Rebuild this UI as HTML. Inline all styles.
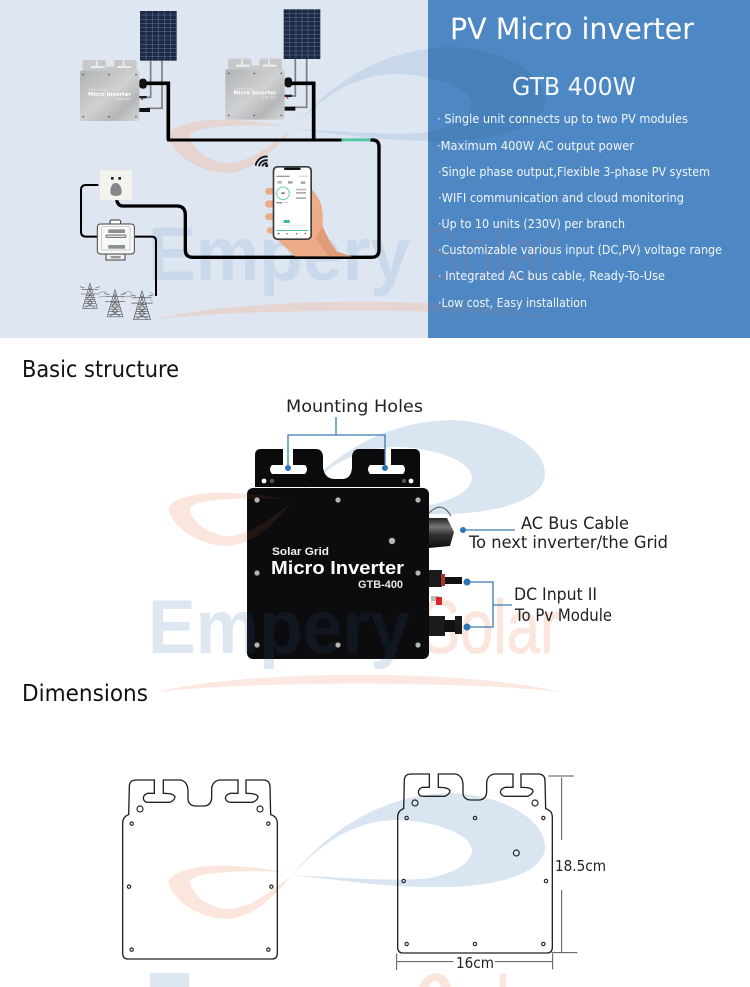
<!DOCTYPE html>
<html><head><meta charset="utf-8"><style>
html,body{margin:0;padding:0;background:#fff;width:750px;height:987px;overflow:hidden}
svg{display:block}
text{font-family:"DejaVu Sans","Liberation Sans",sans-serif}
.wm{font-family:"Liberation Sans",sans-serif;font-weight:bold;font-size:76px}
.wn{font-family:"Liberation Sans",sans-serif;font-weight:normal;font-size:76px}
</style></head><body>
<svg xmlns="http://www.w3.org/2000/svg" width="750" height="987" viewBox="0 0 750 987">
<defs>
<linearGradient id="steel" x1="0" y1="0" x2="1" y2="1"><stop offset="0" stop-color="#b0b3b5"/><stop offset=".5" stop-color="#cfd0d1"/><stop offset=".75" stop-color="#b4b6b8"/><stop offset="1" stop-color="#d6d7d7"/></linearGradient>
<linearGradient id="acg" x1="0" y1="0" x2="0" y2="1"><stop offset="0" stop-color="#222"/><stop offset=".3" stop-color="#777"/><stop offset=".55" stop-color="#333"/><stop offset="1" stop-color="#0c0c0c"/></linearGradient>
<clipPath id="topc"><rect x="0" y="0" width="750" height="338"/></clipPath>
<clipPath id="panc"><rect x="428" y="0" width="322" height="338"/></clipPath>
<clipPath id="midc"><rect x="0" y="338" width="750" height="649"/></clipPath>
<clipPath id="bodyc"><rect x="247" y="488" width="182" height="171" rx="6"/></clipPath>
<path id="swb" d="M292 875C330 830 380 795 450 793C505 795 545 820 545 847C545 875 490 887 443 887C390 888 340 880 292 875C350 878 400 882 430 878C460 872 472 860 472 850C470 832 430 820 393 820C355 822 325 840 292 875Z"/>
<path id="swo" d="M283 872C250 866 220 864 200 867C178 870 166 878 169 885C175 902 200 918 225 919C255 918 275 895 292 875C275 888 250 910 225 909C205 906 190 892 190 881C195 873 230 870 283 872Z"/>
<path id="swl" d="M157 692C250 669 470 669 560 692C470 681 250 681 157 692Z"/>
<g id="outl">
<path d="M38 190Q38 170 56 164L58 80Q58 60 78 60L133 60L133 100L112 100Q100 105 100 115Q102 127 115 127L180 127Q195 120 195 110Q190 100 160 100L160 60L212 60Q232 65 234 90L234 120Q238 138 258 138L285 138Q303 135 305 115L305 85Q308 62 330 60L384 60L384 100L360 100Q346 105 346 115Q350 127 362 127L428 127Q444 120 444 110Q440 100 408 100L408 60L462 60Q480 62 480 80L482 164Q502 170 502 190L502 580Q502 597 485 597L55 597Q38 597 38 580Z" fill="none" stroke="#222" stroke-width="4"/>
</g>
<g id="inv">
<path d="M248 212L248 186Q248 180 254 180L312 180Q318 180 318 186L318 200L342 200L342 186Q342 180 348 180L404 180Q410 180 410 186L410 212Z" fill="#c6c8c9"/>
<rect x="272" y="198" width="42" height="6" fill="#eceeee"/><rect x="288" y="182" width="5" height="16" fill="#eceeee"/><rect x="352" y="198" width="42" height="6" fill="#eceeee"/><rect x="368" y="182" width="5" height="16" fill="#eceeee"/>
<rect x="240" y="212" width="178" height="151" rx="5" fill="url(#steel)"/>
<g fill="#555"><circle cx="250" cy="224" r="2.5"/><circle cx="327" cy="224" r="2.5"/><circle cx="408" cy="224" r="2.5"/><circle cx="250" cy="350" r="2.5"/><circle cx="327" cy="350" r="2.5"/><circle cx="408" cy="350" r="2.5"/></g>
<text x="266" y="272" font-size="8" fill="#eee" textLength="55" lengthAdjust="spacingAndGlyphs">Solar Grid</text>
<text x="264" y="288" font-size="15" font-weight="bold" fill="#fff" textLength="129" lengthAdjust="spacingAndGlyphs">Micro Inverter</text>
<text x="349" y="300" font-size="8" fill="#eee" textLength="44" lengthAdjust="spacingAndGlyphs">GTB-400</text>
<rect x="418" y="236" width="22" height="30" rx="9" fill="#111"/>
<rect x="418" y="288" width="22" height="7" fill="#222"/><rect x="424" y="295" width="5" height="5" fill="#c33"/>
<rect x="418" y="324" width="32" height="12" fill="#111"/>
</g>
<g id="tower" fill="none" stroke="#555" stroke-width="1.8">
<path d="M0 -70L-22 5L22 5Z"/><path d="M-18 -10L18 -10M-15 -22L15 -22M-11 -34L11 -34M-20 -2L20 -2M-16 -16L16 -16M-13 -28L13 -28"/>
<path d="M-25 -52L25 -52M-28 -38L28 -38M-30 -60L-16 -56M30 -60L16 -56"/>
<path d="M-4 -60L4 -40L-8 -25L8 -10L-14 3M4 -60L-4 -40L8 -25L-8 -10L14 3"/>
</g>
<g id="panel">
<rect x="0" y="0" width="110" height="149" fill="#1c2a48"/>
<g stroke="#8d98ae" stroke-width="1"><path d="M18 0V149M37 0V149M55 0V149M73 0V149M92 0V149M0 12H110M0 25H110M0 37H110M0 50H110M0 62H110M0 75H110M0 87H110M0 100H110M0 112H110M0 125H110M0 137H110"/></g>
</g>
</defs>

<rect width="750" height="987" fill="#fff"/>
<rect x="0" y="0" width="428" height="338" fill="#dee6f2"/>

<!-- watermark, top -->
<g clip-path="url(#topc)">
<use href="#swb" y="-746" fill="#c8d8ea"/>
<use href="#swo" y="-746" fill="#e6d4d1"/>
<text class="wm" x="148" y="280" fill="#c9d9eb" textLength="262" lengthAdjust="spacingAndGlyphs">Empery</text>
<use href="#swl" y="-373" fill="#e6d4d1"/>
</g>

<!-- right blue panel -->
<rect x="428" y="0" width="322" height="338" fill="#4d88c4"/>
<g clip-path="url(#panc)">
<use href="#swb" y="-746" fill="#3a70aa" opacity=".28"/>
<text class="wn" x="420" y="280" fill="#8c7f98" opacity=".22" textLength="140" lengthAdjust="spacingAndGlyphs">Solar</text>
<use href="#swl" y="-373" fill="#8c7f98" opacity=".22"/>
</g>
<text x="450" y="39" font-size="29" fill="#fff" textLength="244" lengthAdjust="spacingAndGlyphs">PV Micro inverter</text>
<text x="512" y="95" font-size="25" fill="#f4f7fb" textLength="124" lengthAdjust="spacingAndGlyphs">GTB 400W</text>
<g font-size="12.5" fill="#f2f6fb">
<text x="437" y="123" textLength="251" lengthAdjust="spacingAndGlyphs">· Single unit connects up to two PV modules</text>
<text x="437" y="150" textLength="197" lengthAdjust="spacingAndGlyphs">·Maximum 400W AC output power</text>
<text x="438" y="176" textLength="272" lengthAdjust="spacingAndGlyphs">·Single phase output,Flexible 3-phase PV system</text>
<text x="438" y="202" textLength="246" lengthAdjust="spacingAndGlyphs">·WIFI communication and cloud monitoring</text>
<text x="438" y="228" textLength="187" lengthAdjust="spacingAndGlyphs">·Up to 10 units (230V) per branch</text>
<text x="438" y="254" textLength="284" lengthAdjust="spacingAndGlyphs">·Customizable various input (DC,PV) voltage range</text>
<text x="438" y="280" textLength="227" lengthAdjust="spacingAndGlyphs">· Integrated AC bus cable, Ready-To-Use</text>
<text x="438" y="307" textLength="149" lengthAdjust="spacingAndGlyphs">·Low cost, Easy installation</text>
</g>

<!-- watermark, lower -->
<g clip-path="url(#midc)">
<use href="#swb" y="-373" fill="#d9e5f1"/>
<use href="#swo" y="-373" fill="#fae6dc"/>
<use href="#swb" fill="#d9e5f1"/>
<use href="#swo" fill="#fae6dc"/>
<text class="wm" x="148" y="653" fill="#dce7f2" textLength="262" lengthAdjust="spacingAndGlyphs">Empery</text>
<text class="wn" x="420" y="653" fill="#fbe6dd" stroke="#fbe6dd" stroke-width="1" textLength="140" lengthAdjust="spacingAndGlyphs">Solar</text>
<use href="#swl" fill="#fbe9e1"/>
<rect x="150" y="973" width="39" height="14" fill="#dce7f2"/>
<path d="M419 987C422 978 430 973 436 973C443 973 449 978 451 987H441C440 983 438 981 436 981C433 981 430 983 429 987Z" fill="#fbe6dd"/>
<rect x="500" y="973" width="6" height="14" fill="#fbe6dd"/>
</g>

<!-- top diagram (3x coords) -->
<g transform="scale(.33333)">
<use href="#panel" x="420" y="33"/>
<use href="#panel" x="851" y="28"/>
<g fill="none" stroke="#7b8085" stroke-width="5">
<path d="M452 182V292H430M486 182V325H440"/>
<path d="M886 177V288H866M920 177V322H876"/>
</g>
<use href="#inv"/>
<use href="#inv" x="436" y="-4"/>
<g fill="none" stroke="#000">
<path d="M438 250H505V420" stroke-width="11"/>
<path d="M872 250H941V420" stroke-width="11"/>
<path d="M501 420H1025" stroke-width="9"/>
<path d="M1110 420H1118Q1137 420 1137 440V750Q1137 772 1115 772H578Q556 772 556 750V645Q556 618 530 618H368Q349 618 349 585" stroke-width="10"/>
<path d="M295 555H258Q243 555 243 570V695Q243 710 258 710H292" stroke-width="6"/>
<path d="M405 710H455Q468 710 468 723V888" stroke-width="6"/>
</g>
<rect x="1025" y="415" width="87" height="9" fill="#52c7a3"/>

<!-- socket -->
<rect x="300" y="510" width="97" height="90" fill="#f4f4ef" stroke="#e2e2dc"/>
<rect x="333" y="531" width="8" height="8" fill="#222"/><rect x="355" y="531" width="8" height="8" fill="#222"/>
<path d="M338 552Q347 546 356 552Q366 562 365 578Q364 588 348 588Q332 588 331 578Q330 562 338 552Z" fill="#85888b"/>
<!-- meter -->
<rect x="330" y="660" width="32" height="14" rx="5" fill="#fff" stroke="#333" stroke-width="3"/>
<rect x="292" y="672" width="111" height="90" rx="9" fill="#f7f8f8" stroke="#444" stroke-width="3"/>
<rect x="305" y="680" width="85" height="70" rx="3" fill="none" stroke="#bbb" stroke-width="2"/>
<rect x="325" y="688" width="50" height="11" fill="#8d9092"/><rect x="325" y="735" width="50" height="11" fill="#8d9092"/>
<rect x="318" y="705" width="60" height="8" rx="3" fill="#ddd" stroke="#444" stroke-width="2"/>
<rect x="318" y="762" width="57" height="18" fill="#eee" stroke="#444" stroke-width="3"/>
<rect x="332" y="768" width="30" height="7" fill="#999"/>
<!-- towers -->
<use href="#tower" x="270" y="920"/>
<use href="#tower" transform="translate(345 945) scale(1.08)"/>
<use href="#tower" transform="translate(426 953) scale(1.15)"/>
<g fill="none" stroke="#777" stroke-width="1.5"><path d="M295 880Q310 872 322 878M295 892Q310 886 322 890M368 880Q385 872 398 878M368 892Q385 886 398 892M450 878L458 880M450 898L458 904"/></g>

<!-- wifi -->
<g fill="none" stroke="#111" stroke-width="5.5">
<path d="M767 497A32 32 0 0 1 803 470"/><path d="M777 499A22 22 0 0 1 803 481"/><path d="M787 499A12 12 0 0 1 802 490"/></g>
<circle cx="800" cy="497" r="4.5" fill="#111"/>
<!-- hand -->
<g fill="#eeab88">
<rect x="795" y="564" width="35" height="20" rx="10"/><rect x="795" y="601" width="35" height="22" rx="11"/><rect x="795" y="640" width="35" height="20" rx="10"/><rect x="800" y="682" width="30" height="18" rx="9"/>
<path d="M930 562Q958 590 965 620Q970 650 968 680Q985 720 1010 755L1055 769L885 769Q860 745 825 712Z"/>
</g>
<path d="M968 680Q985 720 1010 755L1055 769L985 769Q960 730 945 715Z" fill="#e19b75"/>
<!-- phone -->
<rect x="818" y="498" width="118" height="222" rx="14" fill="#3a3c40"/>
<rect x="823" y="503" width="108" height="212" rx="10" fill="#fff"/>
<rect x="852" y="503" width="50" height="7" rx="3" fill="#111"/>
<circle cx="849" cy="580" r="19" fill="#fff" stroke="#66cdb0" stroke-width="3"/>
<rect x="844" y="577" width="10" height="5" fill="#777"/>
<rect x="829" y="527" width="40" height="4" fill="#999"/><rect x="895" y="527" width="28" height="3" fill="#ccc"/>
<rect x="832" y="543" width="14" height="8" fill="#bbb"/><rect x="864" y="543" width="14" height="8" fill="#aaa"/><rect x="902" y="544" width="14" height="8" fill="#aaa"/>
<rect x="888" y="566" width="30" height="5" fill="#bbb"/><rect x="888" y="576" width="30" height="5" fill="#aaa"/><rect x="888" y="592" width="30" height="5" fill="#aaa"/>
<rect x="829" y="606" width="18" height="4" fill="#888"/><rect x="852" y="606" width="12" height="3" fill="#ccc"/>
<rect x="851" y="660" width="18" height="9" fill="#3bb79a"/>
<rect x="829" y="690" width="96" height="3" fill="#4fc4a0"/>
<rect x="830" y="674" width="92" height="3" fill="#e8e8e8"/>
<g fill="#777"><circle cx="836" cy="701" r="3"/><circle cx="862" cy="701" r="2.5"/><circle cx="890" cy="701" r="2.5"/><circle cx="916" cy="701" r="2.5"/></g>
</g>

<!-- Basic structure -->
<text x="22" y="377" font-size="23" fill="#111" textLength="157" lengthAdjust="spacingAndGlyphs">Basic structure</text>
<text x="286" y="412" font-size="17" fill="#222" textLength="137" lengthAdjust="spacingAndGlyphs">Mounting Holes</text>

<!-- bracket -->
<path fill-rule="evenodd" fill="#0b0b0b" d="M255 487V455Q255 449 261 449H283V465H272Q268 469 272 474H305Q309 469 305 465H293V449H316Q322 449 323 456V468Q325 479 335 479H342Q351 479 352 468V456Q353 449 359 449H385V465H370Q366 469 370 474H403Q407 469 403 465H391V449H414Q420 449 420 455V487Z"/>
<circle cx="264" cy="481" r="2.4" fill="#fff"/><circle cx="272" cy="481" r="2.2" fill="#555"/><circle cx="404" cy="481" r="2.2" fill="#555"/><circle cx="411" cy="481" r="2.4" fill="#fff"/>
<!-- body -->
<rect x="247" y="488" width="182" height="171" rx="6" fill="#0c0c0e"/>
<g clip-path="url(#bodyc)">
<text class="wm" x="148" y="653" fill="#2e6aa8" opacity=".12" textLength="262" lengthAdjust="spacingAndGlyphs">Empery</text>
<use href="#swo" y="-373" fill="#c7663a" opacity=".12"/>
</g>
<g fill="#b5b5b5"><circle cx="257" cy="500" r="2.6"/><circle cx="338" cy="500" r="2.6"/><circle cx="418" cy="500" r="2.6"/><circle cx="257" cy="573" r="2.6"/><circle cx="418" cy="573" r="2.6"/><circle cx="257" cy="645" r="2.6"/><circle cx="338" cy="645" r="2.6"/><circle cx="418" cy="645" r="2.6"/><circle cx="392" cy="541" r="3.2"/></g>
<text x="272" y="555" font-size="11" font-weight="bold" fill="#f2f2f2" textLength="57" lengthAdjust="spacingAndGlyphs" style="font-family:'Liberation Sans',sans-serif">Solar Grid</text>
<text x="271" y="574" font-size="18" font-weight="bold" fill="#fff" textLength="133" lengthAdjust="spacingAndGlyphs" style="font-family:'Liberation Sans',sans-serif">Micro Inverter</text>
<text x="358" y="588" font-size="11" font-weight="bold" fill="#e6e6e6" textLength="45" lengthAdjust="spacingAndGlyphs" style="font-family:'Liberation Sans',sans-serif">GTB-400</text>

<!-- connectors -->
<path d="M429 513Q442 500 451 516" fill="none" stroke="#555" stroke-width="1"/>
<path d="M429 518H447L454 532L450 546L429 548Z" fill="url(#acg)"/>
<rect x="429" y="570" width="13" height="17" fill="#1b1b1b"/><rect x="440" y="577" width="22" height="7" fill="#111"/><rect x="441" y="574" width="4" height="12" fill="#a33"/>
<rect x="431" y="596" width="8" height="5" fill="#bbb"/><rect x="436" y="597" width="6" height="8" fill="#d62a2a"/>
<rect x="429" y="616" width="16" height="20" fill="#1b1b1b"/><rect x="444" y="620" width="18" height="12" fill="#111"/><rect x="455" y="616" width="7" height="18" fill="#1a1a1a"/>

<!-- leaders -->
<g fill="none" stroke="#3a7ab5" stroke-width="1.3">
<path d="M336 417V435M288 468V435H385V468"/>
<path d="M463 530H515"/>
<path d="M467 582H493V627H467M493 605H512"/>
</g>
<g fill="#2e75b6"><circle cx="288" cy="468" r="3"/><circle cx="385" cy="468" r="3"/><circle cx="463" cy="530" r="3"/><circle cx="467" cy="582" r="3.5"/><circle cx="467" cy="627" r="3.5"/></g>
<g font-size="16.5" fill="#222">
<text x="521" y="529" textLength="108" lengthAdjust="spacingAndGlyphs">AC Bus Cable</text>
<text x="469" y="548" textLength="199" lengthAdjust="spacingAndGlyphs">To next inverter/the Grid</text>
<text x="514" y="600" textLength="83" lengthAdjust="spacingAndGlyphs">DC Input II</text>
<text x="515" y="621" textLength="97" lengthAdjust="spacingAndGlyphs">To Pv Module</text>
</g>

<text x="22" y="701" font-size="23" fill="#111" textLength="126" lengthAdjust="spacingAndGlyphs">Dimensions</text>

<!-- outlines -->
<g transform="translate(110 760) scale(.33333)">
<use href="#outl"/>
<use href="#outl" x="825" y="-18"/>
<g fill="none" stroke="#222" stroke-width="3.4">
<circle cx="65" cy="191" r="5"/><circle cx="475" cy="191" r="5"/><circle cx="65" cy="569" r="5"/><circle cx="475" cy="569" r="5"/><circle cx="57" cy="380" r="5"/><circle cx="484" cy="380" r="5"/><circle cx="90" cy="147" r="9"/><circle cx="450" cy="147" r="9"/>
<circle cx="890" cy="174" r="5"/><circle cx="1095" cy="174" r="5"/><circle cx="1300" cy="174" r="5"/><circle cx="881" cy="363" r="5"/><circle cx="1308" cy="363" r="5"/><circle cx="890" cy="552" r="5"/><circle cx="1095" cy="552" r="5"/><circle cx="1300" cy="552" r="5"/><circle cx="915" cy="129" r="9"/><circle cx="1275" cy="129" r="9"/><circle cx="1219" cy="279" r="9"/>
</g>
<g fill="none" stroke="#555" stroke-width="3">
<path d="M1315 48H1392M1355 52V240M1355 390V578M1325 578H1402"/>
<path d="M860 580V630M1328 580V628M860 605H1030M1155 605H1328"/>
</g>
</g>
<text x="555" y="871" font-size="15" fill="#222" textLength="51" lengthAdjust="spacingAndGlyphs">18.5cm</text>
<text x="456" y="968" font-size="15" fill="#222" textLength="38" lengthAdjust="spacingAndGlyphs">16cm</text>
</svg>
</body></html>
